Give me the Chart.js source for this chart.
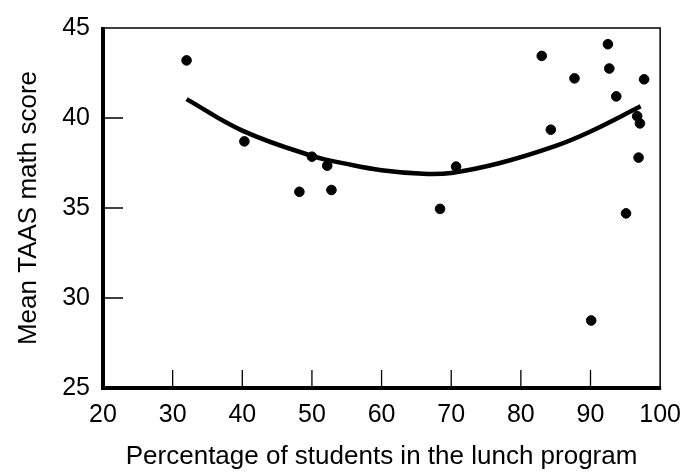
<!DOCTYPE html>
<html>
<head>
<meta charset="utf-8">
<script src="https://cdn.jsdelivr.net/npm/chart.js@4.4.0/dist/chart.umd.min.js"></script>
<style>
  html, body { margin: 0; padding: 0; background: #fff; }
  #wrap { width: 693px; height: 475px; }
</style>
</head>
<body>
<div id="wrap"><canvas id="scores"></canvas></div>
<script>
// schools: % of students in the lunch program vs mean TAAS math score
const lunchPct = [32.0, 40.3, 48.2, 50.0, 52.2, 52.8, 68.4, 70.7, 83.0, 84.3, 87.7, 90.1, 92.5, 92.7, 93.7, 95.1, 96.7, 96.9, 97.1, 97.7];
const mathScore = [43.2, 38.7, 35.9, 37.85, 37.35, 36.0, 34.95, 37.3, 43.45, 39.35, 42.2, 28.75, 44.1, 42.75, 41.2, 34.7, 40.1, 37.8, 39.7, 42.15];

// fitted curve
const fitX = [32, 40, 50, 55, 60, 66, 70, 77, 85, 90, 97.2];
const fitY = [41.05, 39.3, 37.9, 37.45, 37.1, 36.9, 36.95, 37.5, 38.45, 39.25, 40.65];

const xTicks = [20, 30, 40, 50, 60, 70, 80, 90, 100];
const yTicks = [25, 30, 35, 40, 45];

const FONT = "'Liberation Sans', Arial, Helvetica, sans-serif";

// frame: heavy left/bottom, light top/right, ticks pointing inward
const framePlugin = {
  id: 'frame',
  afterDatasetsDraw(chart) {
    const ctx = chart.ctx;
    const a = chart.chartArea;
    const xs = chart.scales.x, ys = chart.scales.y;
    ctx.save();
    ctx.strokeStyle = '#000';
    ctx.lineWidth = 1.5;
    ctx.beginPath();
    ctx.moveTo(a.left, a.top); ctx.lineTo(a.right, a.top); ctx.lineTo(a.right, a.bottom);
    ctx.stroke();
    ctx.lineWidth = 1.3;
    ctx.beginPath();
    xTicks.slice(1, -1).forEach(function (v) {
      const px = xs.getPixelForValue(v);
      ctx.moveTo(px, a.bottom); ctx.lineTo(px, a.bottom - 18);
    });
    yTicks.slice(1, -1).forEach(function (v) {
      const py = ys.getPixelForValue(v);
      ctx.moveTo(a.left, py); ctx.lineTo(a.left + 20, py);
    });
    ctx.stroke();
    ctx.lineWidth = 4;
    ctx.beginPath();
    ctx.moveTo(a.left, a.top - 1); ctx.lineTo(a.left, a.bottom); ctx.lineTo(a.right + 1, a.bottom);
    ctx.stroke();
    ctx.restore();
  }
};

new Chart(document.getElementById('scores'), {
  type: 'scatter',
  data: {
    datasets: [{
      label: 'Schools',
      data: lunchPct.map(function (x, i) { return {x: x, y: mathScore[i]}; }),
      backgroundColor: '#000',
      borderColor: '#000',
      pointRadius: 4.8,
      pointHoverRadius: 4.8
    }, {
      label: 'Fit',
      type: 'line',
      data: fitX.map(function (x, i) { return {x: x, y: fitY[i]}; }),
      borderColor: '#000',
      borderWidth: 4.5,
      pointRadius: 0,
      fill: false,
      tension: 0.4
    }]
  },
  options: {
    responsive: true,
    maintainAspectRatio: false,
    animation: false,
    events: [],
    layout: { padding: { top: 22, right: 22, left: 0, bottom: 0 } },
    plugins: { legend: { display: false }, tooltip: { enabled: false } },
    scales: {
      x: {
        type: 'linear',
        min: 20, max: 100,
        afterBuildTicks: function (s) { s.ticks = xTicks.map(function (v) { return {value: v}; }); },
        afterFit: function (s) { s.height = 87; },
        grid: { display: false, drawTicks: false },
        border: { display: false },
        ticks: { color: '#000', padding: 12, maxRotation: 0, font: { family: FONT, size: 25 } },
        title: { display: true, text: 'Percentage of students in the lunch program', color: '#000',
                 padding: { top: 0, bottom: 3 }, font: { family: FONT, size: 26 } }
      },
      y: {
        type: 'linear',
        min: 25, max: 45,
        afterBuildTicks: function (s) { s.ticks = yTicks.map(function (v) { return {value: v}; }); },
        afterFit: function (s) { s.width = 103; },
        grid: { display: false, drawTicks: false },
        border: { display: false },
        ticks: { color: '#000', padding: 13, font: { family: FONT, size: 25 } },
        title: { display: true, text: 'Mean TAAS math score', color: '#000',
                 padding: { top: 13, bottom: 0 }, font: { family: FONT, size: 26 } }
      }
    }
  },
  plugins: [framePlugin]
});
</script>
</body>
</html>
